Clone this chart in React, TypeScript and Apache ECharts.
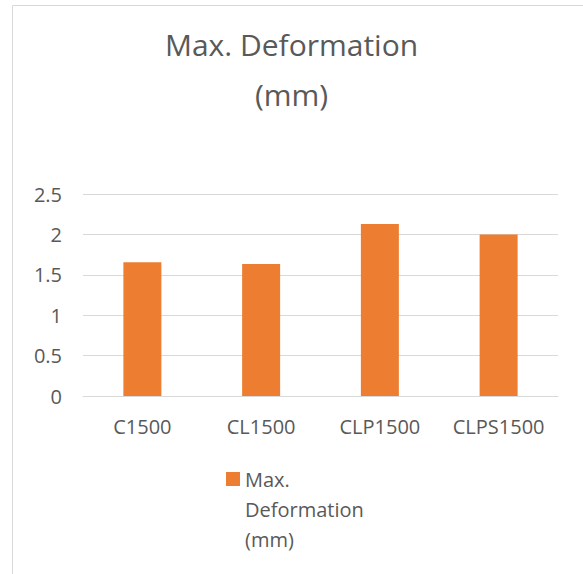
import React, { useEffect, useRef } from "react";
import * as echarts from "echarts";

const categories = ["C1500", "CL1500", "CLP1500", "CLPS1500"];
const seriesName = "Max. Deformation (mm)";
const values = [1.655, 1.634, 2.13, 2.0];
const titleLines = ["Max. Deformation", "(mm)"];
const legendLines = [" ", " ", "Max.", "Deformation", "(mm)"];

const FONT = "'Open Sans', 'DejaVu Sans', sans-serif";
const TEXT = "#595959";
const GRID = "#d9d9d9";

export default function App() {
  const ref = useRef<HTMLDivElement>(null);
  useEffect(() => {
    if (!ref.current) return;
    const chart = echarts.init(ref.current, undefined, { renderer: "svg" });
    chart.setOption({
      animation: false,
      backgroundColor: "#ffffff",
      textStyle: { fontFamily: FONT },
      title: titleLines.map((t, i) => ({
        text: t,
        left: "center",
        top: 29 + i * 50,
        padding: 0,
        textStyle: {
          fontFamily: FONT,
          fontSize: 30,
          fontWeight: "normal",
          color: TEXT,
        },
      })),
      graphic: [
        {
          type: "line",
          shape: { x1: 12.5, y1: 5.5, x2: 12.5, y2: 574 },
          style: { stroke: GRID, lineWidth: 1 },
          silent: true,
        },
        {
          type: "line",
          shape: { x1: 12.5, y1: 5.5, x2: 583, y2: 5.5 },
          style: { stroke: GRID, lineWidth: 1 },
          silent: true,
        },
      ],
      legend: {
        show: true,
        left: 226,
        top: 404,
        padding: 0,
        itemWidth: 14,
        itemHeight: 14,
        itemGap: 7,
        icon: "rect",
        data: [seriesName],
        formatter: () => legendLines.join("\n"),
        textStyle: {
          fontFamily: FONT,
          fontSize: 20,
          color: TEXT,
          lineHeight: 30,
        },
      },
      grid: { left: 83, right: 25, top: 194, bottom: 178, containLabel: false },
      xAxis: {
        type: "category",
        data: categories,
        axisLine: { lineStyle: { color: GRID, width: 1 } },
        axisTick: { show: false },
        axisLabel: {
          color: TEXT,
          fontSize: 20,
          fontFamily: FONT,
          margin: 20,
          interval: 0,
        },
      },
      yAxis: {
        type: "value",
        min: 0,
        max: 2.5,
        interval: 0.5,
        axisLine: { show: false },
        axisTick: { show: false },
        splitLine: { lineStyle: { color: GRID, width: 1 } },
        axisLabel: { color: TEXT, fontSize: 20, fontFamily: FONT, margin: 21 },
      },
      series: [
        {
          name: seriesName,
          type: "bar",
          data: values,
          barWidth: "32%",
          itemStyle: { color: "#ED7D31" },
        },
      ],
    });
    return () => chart.dispose();
  }, []);
  return (
    <div
      ref={ref}
      style={{ position: "absolute", left: 0, top: 0, width: 583, height: 574 }}
    />
  );
}
